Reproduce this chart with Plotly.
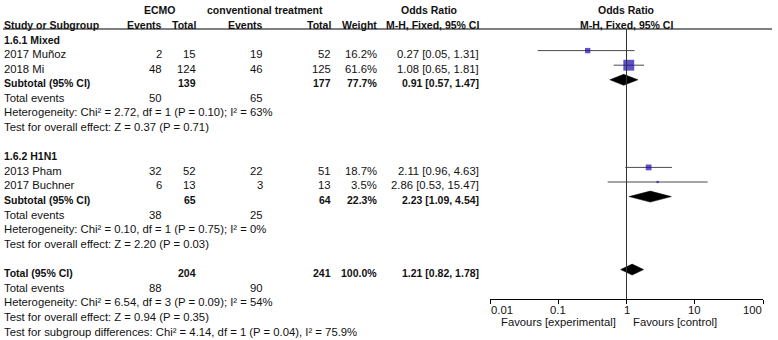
import math
import plotly.graph_objects as go

# ---------------- data ----------------
subgroup_names = ["1.6.1 Mixed", "1.6.2 H1N1"]
studies = ["2017 Muñoz", "2018 Mi", "2013 Pham", "2017 Buchner"]
study_group = [0, 0, 1, 1]
ecmo_events = [2, 48, 32, 6]
ecmo_total = [15, 124, 52, 13]
conv_events = [19, 46, 22, 3]
conv_total = [52, 125, 51, 13]
weights = [16.2, 61.6, 18.7, 3.5]
odds = [0.27, 1.08, 2.11, 2.86]
ci_low = [0.05, 0.65, 0.96, 0.53]
ci_high = [1.31, 1.81, 4.63, 15.47]

sub_ecmo_total = [139, 65]
sub_conv_total = [177, 64]
sub_weight = [77.7, 22.3]
sub_odds = [0.91, 2.23]
sub_low = [0.57, 1.09]
sub_high = [1.47, 4.54]
sub_ecmo_events = [50, 38]
sub_conv_events = [65, 25]
sub_het = ["Heterogeneity: Chi² = 2.72, df = 1 (P = 0.10); I² = 63%",
           "Heterogeneity: Chi² = 0.10, df = 1 (P = 0.75); I² = 0%"]
sub_effect = ["Test for overall effect: Z = 0.37 (P = 0.71)",
              "Test for overall effect: Z = 2.20 (P = 0.03)"]

tot_ecmo_total = 204
tot_conv_total = 241
tot_weight = 100.0
tot_odds = 1.21
tot_low = 0.82
tot_high = 1.78
tot_ecmo_events = 88
tot_conv_events = 90
tot_het = "Heterogeneity: Chi² = 6.54, df = 3 (P = 0.09); I² = 54%"
tot_effect = "Test for overall effect: Z = 0.94 (P = 0.35)"
subgroup_diff = "Test for subgroup differences: Chi² = 4.14, df = 1 (P = 0.04), I² = 75.9%"

tick_vals = [0.01, 0.1, 1, 10, 100]
tick_text = ["0.01", "0.1", "1", "10", "100"]
favours_left = "Favours [experimental]"
favours_right = "Favours [control]"

# ---------------- layout helpers ----------------
W, H = 778, 340
AXIS_Y = 299
FONT = "Liberation Sans, Arial, sans-serif"
FS = 11.3
FSB = 10.5
TXT = "#111111"
SQ = "#1C08AE"

def text_y(r):
    return 39 + 14.6 * r

def mark_y(r):
    return text_y(r) - 3.0

col_study = 3
col_e_ev = 163
col_e_tot = 197
col_c_ev = 264
col_c_tot = 332
col_wt = 378
col_or = 480

annotations = []

def add(txt, x, r, anchor="left", bold=False, ypix=None, xref="paper"):
    yp = text_y(r) if ypix is None else ypix
    annotations.append(dict(
        text=f"<b>{txt}</b>" if bold else txt,
        x=(x / W) if xref == "paper" else math.log10(x), y=1 - (yp + 0.5) / H,
        xref=xref, yref="paper",
        xanchor=anchor, yanchor="middle", showarrow=False,
        font=dict(family=FONT, size=FSB if bold else FS, color=TXT), borderpad=0,
    ))

def fmt_or(o, l, h):
    return f"{o:.2f} [{l:.2f}, {h:.2f}]"

# headers
add("ECMO", 160, -2, "center", True)
add("conventional treatment", 265, -2, "center", True)
add("Odds Ratio", 429, -2, "center", True)
add("Odds Ratio", 626, -2, "center", True)
add("Study or Subgroup", col_study, -1, "left", True)
add("Events", col_e_ev, -1, "right", True)
add("Total", col_e_tot, -1, "right", True)
add("Events", col_c_ev, -1, "right", True)
add("Total", col_c_tot, -1, "right", True)
add("Weight", col_wt, -1, "right", True)
add("M-H, Fixed, 95% CI", col_or, -1, "right", True)
add("M-H, Fixed, 95% CI", 626, -1, "center", True)

study_rows = []
sub_rows = []
for g in range(len(subgroup_names)):
    base = g * 8
    add(subgroup_names[g], col_study, base, "left", True)
    r = base + 1
    for i in range(len(studies)):
        if study_group[i] != g:
            continue
        study_rows.append(r)
        add(studies[i], col_study, r)
        add(str(ecmo_events[i]), col_e_ev, r, "right")
        add(str(ecmo_total[i]), col_e_tot, r, "right")
        add(str(conv_events[i]), col_c_ev, r, "right")
        add(str(conv_total[i]), col_c_tot, r, "right")
        add(f"{weights[i]:.1f}%", col_wt, r, "right")
        add(fmt_or(odds[i], ci_low[i], ci_high[i]), col_or, r, "right")
        r += 1
    sub_rows.append(r)
    add("Subtotal (95% CI)", col_study, r, "left", True)
    add(str(sub_ecmo_total[g]), col_e_tot, r, "right", True)
    add(str(sub_conv_total[g]), col_c_tot, r, "right", True)
    add(f"{sub_weight[g]:.1f}%", col_wt, r, "right", True)
    add(fmt_or(sub_odds[g], sub_low[g], sub_high[g]), col_or, r, "right", True)
    add("Total events", col_study, r + 1)
    add(str(sub_ecmo_events[g]), col_e_ev, r + 1, "right")
    add(str(sub_conv_events[g]), col_c_ev, r + 1, "right")
    add(sub_het[g], col_study, r + 2)
    add(sub_effect[g], col_study, r + 3)

tr = 16
add("Total (95% CI)", col_study, tr, "left", True)
add(str(tot_ecmo_total), col_e_tot, tr, "right", True)
add(str(tot_conv_total), col_c_tot, tr, "right", True)
add(f"{tot_weight:.1f}%", col_wt, tr, "right", True)
add(fmt_or(tot_odds, tot_low, tot_high), col_or, tr, "right", True)
add("Total events", col_study, tr + 1)
add(str(tot_ecmo_events), col_e_ev, tr + 1, "right")
add(str(tot_conv_events), col_c_ev, tr + 1, "right")
add(tot_het, col_study, tr + 2)
add(tot_effect, col_study, tr + 3)
add(subgroup_diff, col_study, tr + 4)

# axis tick labels (ends aligned inward like RevMan)
for k, (v, t) in enumerate(zip(tick_vals, tick_text)):
    anc = "left" if k == 0 else ("right" if k == len(tick_vals) - 1 else "center")
    add(t, v, 0, anc, ypix=309, xref="x")

add(favours_left, 617, 0, "right", ypix=321.5)
add(favours_right, 632, 0, "left", ypix=321.5)

# ---------------- traces ----------------
fig = go.Figure()

cx, cy = [], []
for i, r in enumerate(study_rows):
    cx += [ci_low[i], ci_high[i], None]
    cy += [mark_y(r), mark_y(r), None]
fig.add_trace(go.Scatter(x=cx, y=cy, mode="lines",
                         line=dict(color="#4a4a4a", width=1), hoverinfo="skip"))

fig.add_trace(go.Scatter(
    x=odds, y=[mark_y(r) for r in study_rows], mode="markers",
    marker=dict(symbol="square", color=SQ,
                size=[1.45 * w ** 0.5 - 0.5 for w in weights],
                line=dict(width=0)),
    hoverinfo="skip"))

HALF = 5.5
def diamond(o, l, h, r):
    yc = mark_y(r)
    fig.add_trace(go.Scatter(
        x=[l, o, h, o, l], y=[yc, yc - HALF, yc, yc + HALF, yc],
        mode="lines", fill="toself", fillcolor="black",
        line=dict(color="black", width=0.5), hoverinfo="skip"))

for g in range(len(subgroup_names)):
    diamond(sub_odds[g], sub_low[g], sub_high[g], sub_rows[g])
diamond(tot_odds, tot_low, tot_high, tr)

shapes = [
    dict(type="line", xref="paper", yref="y", x0=3 / W, x1=772 / W,
         y0=29, y1=29, line=dict(color="black", width=1)),
    dict(type="line", xref="x", yref="y", x0=1, x1=1, y0=29, y1=AXIS_Y,
         line=dict(color="#333333", width=1)),
]

fig.update_layout(
    width=W, height=H, autosize=False,
    margin=dict(l=0, r=0, t=0, b=0, pad=0),
    paper_bgcolor="white", plot_bgcolor="white",
    showlegend=False,
    annotations=annotations, shapes=shapes,
    xaxis=dict(type="log", range=[-2, 2], domain=[490 / W, 763 / W],
               tickvals=tick_vals, showticklabels=False,
               ticks="outside", ticklen=4, tickcolor="black", tickwidth=1,
               showline=True, linecolor="black", linewidth=1,
               showgrid=False, zeroline=False,
               anchor="y", fixedrange=True),
    yaxis=dict(range=[AXIS_Y, 0], domain=[1 - AXIS_Y / H, 1],
               visible=False, showgrid=False, zeroline=False, fixedrange=True),
)

fig.write_html("out.html", config={"displayModeBar": False},
               post_script="document.body.style.margin='0';document.body.style.overflow='hidden';")
